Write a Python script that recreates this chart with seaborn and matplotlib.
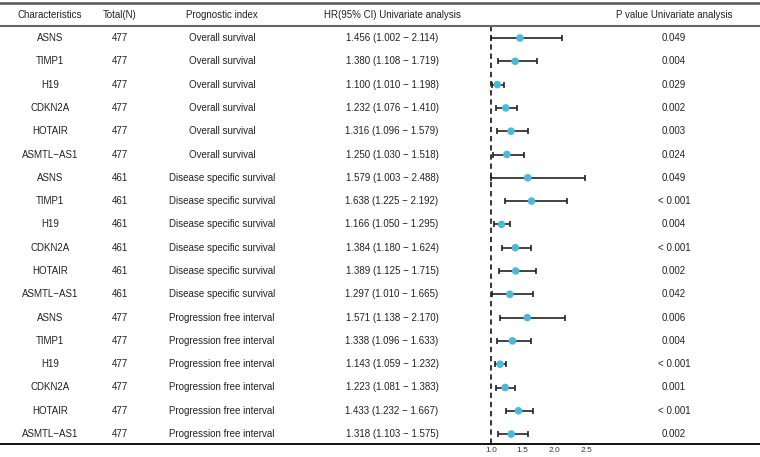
import numpy as np
import pandas as pd
import matplotlib
matplotlib.use('Agg')
import matplotlib.pyplot as plt
import seaborn as sns

genes = ['ASNS', 'TIMP1', 'H19', 'CDKN2A', 'HOTAIR', 'ASMTL\u2212AS1'] * 3
totals = [477] * 6 + [461] * 6 + [477] * 6
prognostic = (['Overall survival'] * 6 + ['Disease specific survival'] * 6
              + ['Progression free interval'] * 6)
hr = [1.456, 1.380, 1.100, 1.232, 1.316, 1.250,
      1.579, 1.638, 1.166, 1.384, 1.389, 1.297,
      1.571, 1.338, 1.143, 1.223, 1.433, 1.318]
hr_low = [1.002, 1.108, 1.010, 1.076, 1.096, 1.030,
          1.003, 1.225, 1.050, 1.180, 1.125, 1.010,
          1.138, 1.096, 1.059, 1.081, 1.232, 1.103]
hr_high = [2.114, 1.719, 1.198, 1.410, 1.579, 1.518,
           2.488, 2.192, 1.295, 1.624, 1.715, 1.665,
           2.170, 1.633, 1.232, 1.383, 1.667, 1.575]
pvals = ['0.049', '0.004', '0.029', '0.002', '0.003', '0.024',
         '0.049', '< 0.001', '0.004', '< 0.001', '0.002', '0.042',
         '0.006', '0.004', '< 0.001', '0.001', '< 0.001', '0.002']
xticks = [1.0, 1.5, 2.0, 2.5]
headers = ['Characteristics', 'Total(N)', 'Prognostic index',
           'HR(95% CI) Univariate analysis', 'P value Univariate analysis']

df = pd.DataFrame({'gene': genes, 'total': totals, 'index': prognostic,
                   'hr': hr, 'low': hr_low, 'high': hr_high, 'p': pvals})
df['row'] = np.arange(len(df))
df['hr_text'] = [f'{h:.3f} ({l:.3f} \u2212 {u:.3f})'
                 for h, l, u in zip(df['hr'], df['low'], df['high'])]

sns.set_theme(style='white')
plt.rcParams['font.family'] = ['Liberation Sans', 'DejaVu Sans']

fig = plt.figure(figsize=(7.6, 4.57), dpi=100)
# axes spans whole width; x in HR units, y in row units
W, H = 760, 457
top_px, bot_px = 3, 444
ax = fig.add_axes([0, 1 - bot_px / H, 1, (bot_px - top_px) / H])
px_per_unit = 63.5
x0_px = 491
ax.set_xlim(1 - x0_px / px_per_unit, 1 + (W - x0_px) / px_per_unit)
row0, step = 38, 23.3
ax.set_ylim((bot_px - row0) / step, (top_px - row0) / step)

# forest
ax.vlines(1.0, -0.5, (bot_px - row0) / step, color='black', lw=1.1,
          linestyles=(0, (3.5, 2.5)), zorder=1)
ax.errorbar(df['hr'], df['row'], xerr=[df['hr'] - df['low'], df['high'] - df['hr']],
            fmt='none', ecolor='#222222', elinewidth=1.2, capsize=2.4, capthick=1.2, zorder=2)
sns.scatterplot(data=df, x='hr', y='row', ax=ax, color='#4BB9DA', s=30,
                edgecolor='none', zorder=3, legend=False)

# table text
tr = ax.get_yaxis_transform()
col_x = [50 / W, 120 / W, 222 / W, 392 / W, 674 / W]
fs = 7
for cx, h in zip(col_x, headers):
    ax.text(cx, -1, h, transform=tr, ha='center', va='center', fontsize=fs, color='#222222')
for _, r in df.iterrows():
    vals = [r['gene'], str(r['total']), r['index'], r['hr_text'], r['p']]
    for cx, v in zip(col_x, vals):
        ax.text(cx, r['row'], v, transform=tr, ha='center', va='center',
                fontsize=fs, color='#222222')

# rules
ax.axhline(-0.5, color='#666666', lw=1.5)
for s in ['left', 'right']:
    ax.spines[s].set_visible(False)
ax.spines['top'].set_color('#555555')
ax.spines['top'].set_linewidth(1.8)
ax.spines['bottom'].set_color('black')
ax.spines['bottom'].set_linewidth(1.3)

ax.set_yticks([])
ax.set_xticks(xticks)
ax.set_xticklabels([f'{t:.1f}' for t in xticks], fontsize=6, color='#333333')
ax.tick_params(axis='x', length=0, pad=2)
ax.set_xlabel('')
ax.set_ylabel('')

fig.savefig('out.png', dpi=100)
